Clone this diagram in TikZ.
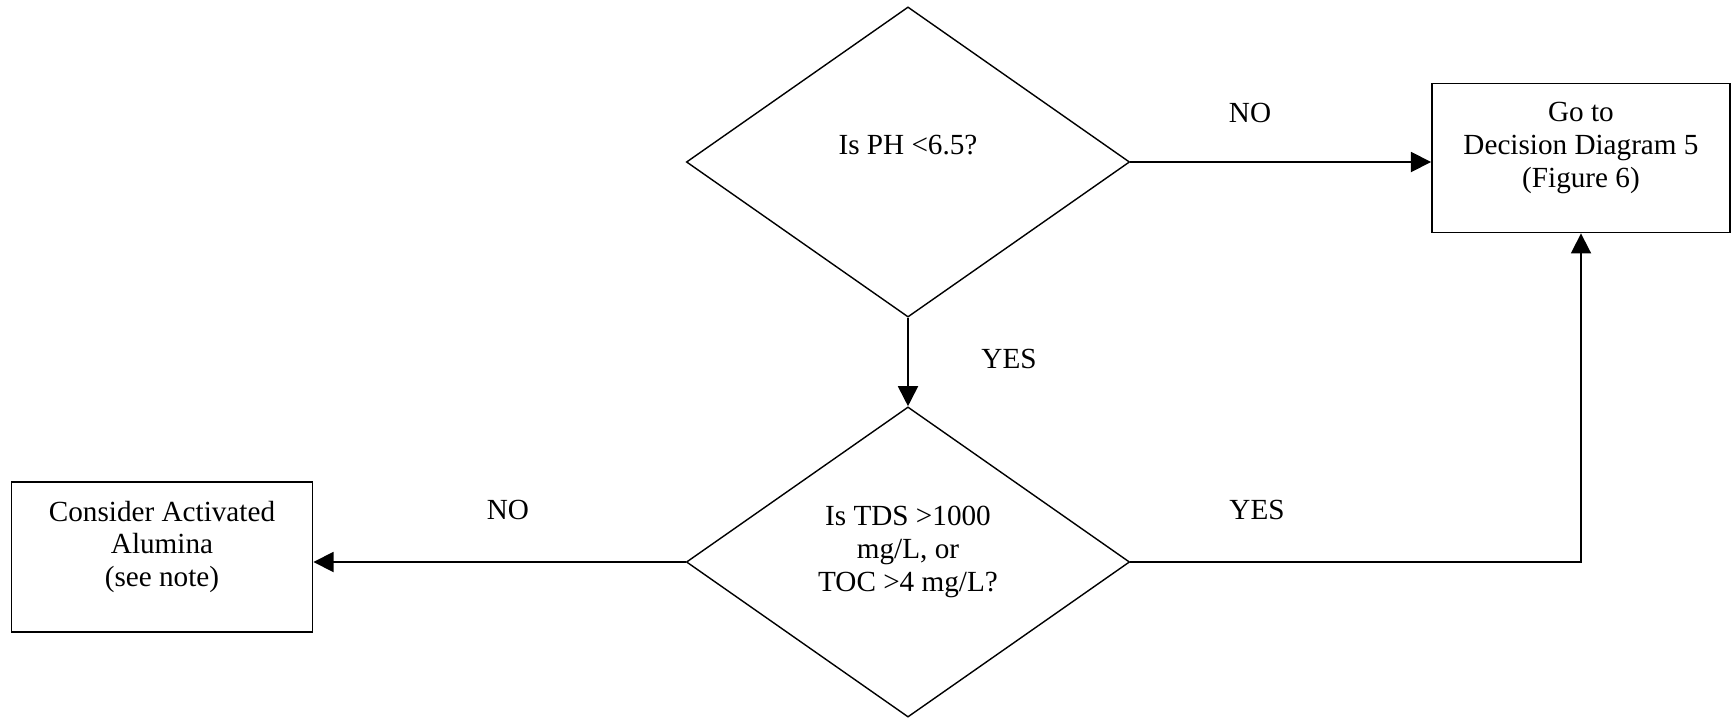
\documentclass[tikz,border=0pt]{standalone}
\usepackage{fontspec}
\setmainfont{Liberation Serif}
\usetikzlibrary{arrows.meta, shapes.geometric}
\tikzset{every node/.append style={align=center}}

\begin{document}
\begin{tikzpicture}[x=0.01cm,y=-0.01cm,
  font=\fontsize{8.3}{9.3}\selectfont,
  decision/.style={draw, shape=diamond, inner sep=0pt, line width=0.4pt,
                   minimum width=4.43cm, minimum height=3.10cm},
  outcome/.style={draw, rectangle, inner sep=0pt, line width=0.5pt,
                  minimum width=2.98cm, minimum height=1.49cm},
  flow/.style={line width=0.5pt, -{Triangle[length=5.7pt,width=5.7pt]}},
  answer/.style={inner sep=1pt}]

\useasboundingbox (0,0) rectangle (1732,718);

% ── Decisions ────────────────────────────────────────────────────────────────
\node[decision, text depth=10pt] (ph) at (908,162) {Is PH <6.5?};
\node[decision, text depth=7.5pt] (tds) at (908,562)
     {Is TDS >1000\\ mg/L, or\\ TOC >4 mg/L?};

% ── Outcomes ─────────────────────────────────────────────────────────────────
\node[outcome, text depth=7.5pt] (dd5) at (1581,158)
     {Go to\\ Decision Diagram 5\\ (Figure 6)};
\node[outcome, text depth=7.5pt, minimum width=3.01cm, minimum height=1.50cm]
     (alum) at (162,557) {Consider Activated\\ Alumina\\ (see note)};

% ── Connectors ───────────────────────────────────────────────────────────────
\draw[flow] (ph.south) -- (tds.north);
\draw[flow] (ph.east) -- (ph.east -| dd5.west);
\draw[flow] (tds.west) -- (tds.west -| alum.east);
\draw[flow] (tds.east) -| (dd5.south);

% ── Answers ──────────────────────────────────────────────────────────────────
\node[answer] (ph-no)   at (1250,113) {NO};
\node[answer] (ph-yes)  at (1009,359) {YES};
\node[answer] (tds-no)  at (508,510)  {NO};
\node[answer] (tds-yes) at (1257,510) {YES};

\end{tikzpicture}
\end{document}
